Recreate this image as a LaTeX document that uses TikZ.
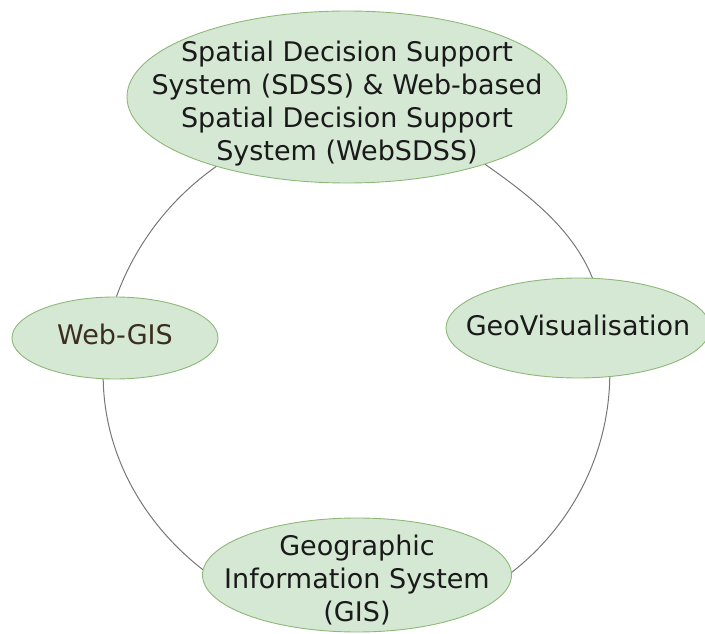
\documentclass[tikz,border=0pt]{standalone}
\usepackage{fontspec}
\setmainfont{DejaVu Sans}
\usetikzlibrary{shapes.geometric}
\definecolor{bubblefill}{HTML}{D5E8D4}
\definecolor{bubbleedge}{HTML}{8DB878}
\definecolor{linkgray}{HTML}{777777}
\definecolor{inkdark}{HTML}{1A1A1A}
\definecolor{inkbrown}{HTML}{3A2E1E}
\tikzset{
  bubble/.style={ellipse, draw=bubbleedge, fill=bubblefill, line width=0.9pt, inner sep=0pt},
  caption/.style={align=center, text=inkdark, font=\fontsize{27}{33}\selectfont, inner sep=0pt},
  link/.style={draw=linkgray, line width=1pt}
}
\begin{document}
\begin{tikzpicture}[x=1pt, y=1pt]
  \useasboundingbox (0,0) rectangle (705,633);

  % the four topics
  \node[bubble, minimum width=440pt, minimum height=172pt,
        label={[caption, yshift=-7pt]center:Spatial Decision Support\\System (SDSS) \& Web-based\\Spatial Decision Support\\System (WebSDSS)}]
        (sdss) at (347,536) {};
  \node[bubble, minimum width=206pt, minimum height=82pt,
        label={[caption, text=inkbrown, yshift=4pt]center:Web-GIS}]
        (webgis) at (115,295) {};
  \node[bubble, minimum width=264pt, minimum height=100pt,
        label={[caption, yshift=3pt]center:GeoVisualisation}]
        (geovis) at (578,305) {};
  \node[bubble, minimum width=309pt, minimum height=114pt,
        label={[caption, yshift=-5pt]center:Geographic\\Information System\\(GIS)}]
        (gis) at (357,58) {};

  % circular links between neighbouring topics
  \draw[link] (sdss.208) to[out=215, in=70, looseness=0.87] (webgis.88);
  \draw[link] (webgis.254) to[out=271, in=142, looseness=0.9] (gis.178);
  \draw[link] (sdss.334) to[out=325, in=112, looseness=0.87] (geovis.74);
  \draw[link] (geovis.303) to[out=269, in=38, looseness=0.9] (gis.1);
\end{tikzpicture}
\end{document}
